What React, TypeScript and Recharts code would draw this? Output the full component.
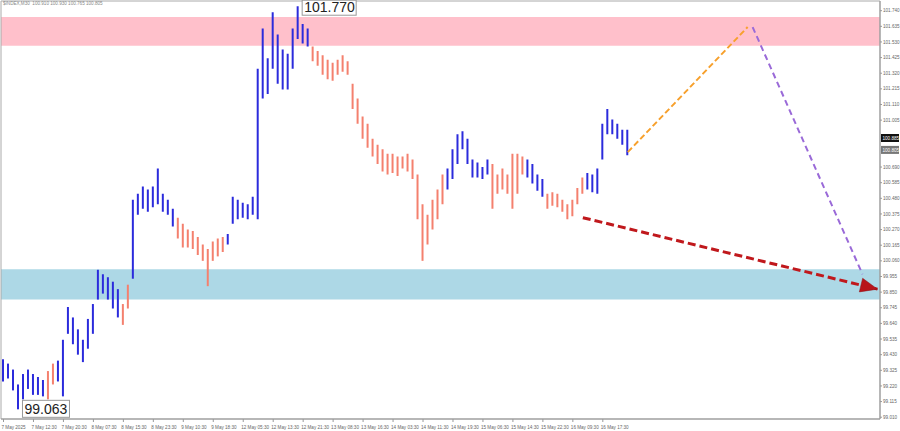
import React from "react";
import {
  ComposedChart, Bar, Line, Cell, XAxis, YAxis, ReferenceArea, ReferenceLine, ReferenceDot,
} from "recharts";

// M30 bars, grouped into ~2.5h slots: high / low per slot
const highs = [
  99.40, 99.37, 99.33, 99.23, 99.30, 99.33, 99.30, 99.28, 99.26, 99.32,
  99.37, 99.39, 99.53, 99.75, 99.68, 99.60, 99.53, 99.67, 99.77, 100.00,
  99.97, 99.95, 99.92, 99.87, 99.77, 99.90, 100.47, 100.51, 100.56, 100.54,
  100.56, 100.68, 100.51, 100.47, 100.41, 100.35, 100.31, 100.27, 100.26, 100.22,
  100.17, 100.14, 100.19, 100.21, 100.22, 100.24, 100.49, 100.47, 100.45, 100.44,
  100.49, 101.35, 101.62, 101.42, 101.73, 101.58, 101.48, 101.45, 101.62, 101.77,
  101.65, 101.62, 101.50, 101.47, 101.44, 101.41, 101.39, 101.41, 101.44, 101.40,
  101.25, 101.15, 101.03, 100.98, 100.88, 100.84, 100.81, 100.78, 100.78, 100.76,
  100.76, 100.78, 100.74, 100.64, 100.44, 100.37, 100.47, 100.54, 100.64, 100.68,
  100.81, 100.91, 100.93, 100.88, 100.74, 100.72, 100.69, 100.74, 100.71, 100.64,
  100.68, 100.64, 100.78, 100.78, 100.76, 100.74, 100.71, 100.64, 100.61, 100.51,
  100.52, 100.51, 100.47, 100.44, 100.47, 100.55, 100.62, 100.65, 100.64, 100.68,
  100.98, 101.08, 101.01, 100.98, 100.94, 100.94,
];

const lows = [
  99.25, 99.27, 99.19, 99.063, 99.13, 99.20, 99.16, 99.16, 99.15, 99.13,
  99.23, 99.25, 99.15, 99.57, 99.50, 99.43, 99.38, 99.47, 99.57, 99.80,
  99.84, 99.80, 99.74, 99.68, 99.63, 99.74, 99.94, 100.37, 100.41, 100.39,
  100.42, 100.44, 100.39, 100.37, 100.29, 100.21, 100.15, 100.15, 100.14, 100.10,
  100.06, 99.89, 100.06, 100.09, 100.12, 100.17, 100.31, 100.34, 100.35, 100.34,
  100.37, 100.34, 101.15, 101.18, 101.35, 101.25, 101.21, 101.21, 101.35, 101.55,
  101.52, 101.50, 101.40, 101.37, 101.31, 101.28, 101.27, 101.31, 101.33, 101.31,
  101.08, 100.98, 100.88, 100.82, 100.76, 100.71, 100.66, 100.64, 100.65, 100.63,
  100.68, 100.66, 100.61, 100.34, 100.06, 100.17, 100.27, 100.34, 100.44, 100.54,
  100.61, 100.71, 100.81, 100.71, 100.62, 100.62, 100.61, 100.64, 100.41, 100.51,
  100.54, 100.51, 100.41, 100.51, 100.64, 100.62, 100.58, 100.53, 100.49, 100.41,
  100.43, 100.42, 100.39, 100.34, 100.36, 100.44, 100.51, 100.54, 100.52, 100.51,
  100.74, 100.91, 100.91, 100.88, 100.84, 100.77,
];

// wave direction per slot: u = up wave (blue), d = down wave (salmon)
const waves =
  "uuuuuuuuu" + "dd" + "uuuuuuuuuuuuu" + "dd" + "uuuuuuuuu" + "dddddddddd" +
  "uuuuuuuuuuuuuuuuu" + "ddddddddddddddddddddddddddd" + "uuuuuuuuu" +
  "ddddddd" + "uuuu" + "dddddddd" + "uuuuuuuuu";

const tickSlots = [0, 6, 12, 18, 24, 30, 36, 42, 48, 54, 60, 66, 72, 78, 84, 90, 96, 102, 108, 114, 120];
const tickLabels = [
  "7 May 2025", "7 May 12:30", "7 May 20:30", "8 May 07:30", "8 May 15:30", "8 May 23:30",
  "9 May 10:30", "9 May 18:30", "12 May 05:30", "12 May 13:30", "12 May 21:30", "13 May 08:30",
  "13 May 16:30", "14 May 03:30", "14 May 11:30", "14 May 19:30", "15 May 06:30", "15 May 14:30",
  "15 May 22:30", "16 May 09:30", "16 May 17:30",
];

// price scale (the two levels under the bid/ask tags are hidden in the original)
const priceTicks = [
  99.010, 99.115, 99.220, 99.325, 99.430, 99.535, 99.640, 99.745, 99.850, 99.955,
  100.060, 100.165, 100.270, 100.375, 100.480, 100.585, 100.690,
  101.005, 101.110, 101.215, 101.320, 101.425, 101.530, 101.635, 101.740,
];

// zones
const resistZone = [101.505, 101.698];
const supportZone = [99.80, 100.004];

// forecast legs: [slot, price]
const orangeLeg = [[125, 100.79], [149, 101.63]];
const purpleLeg = [[150, 101.63], [172, 99.97]];
const redLeg = [[116, 100.35], [175, 99.87]];

const SLOTS = 176;
const BLUE = "#2b2bdc";
const SALMON = "#f4806e";
const AXIS_FONT = "Liberation Sans, Arial, sans-serif";

const rows: any[] = [];
for (let i = 0; i < SLOTS; i++) {
  rows.push({
    i,
    hi: highs[i] ?? null,
    lo: lows[i] ?? null,
    wave: waves[i] ?? null,
    orange: null,
    purple: null,
    red: null,
  });
}
orangeLeg.forEach(([s, p]) => (rows[s].orange = p));
purpleLeg.forEach(([s, p]) => (rows[s].purple = p));
redLeg.forEach(([s, p]) => (rows[s].red = p));

const TimeTick = (props: any) => {
  const { x, y, payload } = props;
  const idx = tickSlots.indexOf(payload.value);
  return (
    <text x={x - 2} y={y + 5} fontSize={4.6} fill="#666" fontFamily={AXIS_FONT} textAnchor="start">
      {tickLabels[idx]}
    </text>
  );
};

const PriceTag = (props: any) => {
  const { viewBox, text, bg } = props;
  if (!viewBox) return null;
  const x = viewBox.x + viewBox.width + 1;
  const y = viewBox.y;
  return (
    <g>
      <rect x={x} y={y - 4} width={18} height={8} fill={bg} />
      <text x={x + 1.5} y={y + 1.8} fontSize={4.6} fill="#fff" fontFamily={AXIS_FONT}>{text}</text>
    </g>
  );
};

const ExtremeTag = (props: any) => {
  const { viewBox, text, dx, dy, w, h } = props;
  if (!viewBox) return null;
  const x = viewBox.x + viewBox.width / 2 + dx;
  const y = viewBox.y + viewBox.height / 2 + dy;
  return (
    <g>
      <rect x={x} y={y} width={w} height={h} fill="#fff" stroke="#999" strokeWidth={1} />
      <text x={x + 2} y={y + h - 3} fontSize={14} fill="#222" fontFamily={AXIS_FONT}>{text}</text>
    </g>
  );
};

const ArrowDot = (props: any) => {
  const { cx, cy, index } = props;
  if (index !== redLeg[1][0] || cx == null) return <g key={`d${index}`} />;
  const ang = Math.atan2(72, 294);
  const ux = Math.cos(ang), uy = Math.sin(ang);
  const nx = -uy, ny = ux;
  const bx = cx - 17 * ux, by = cy - 17 * uy;
  const pts = `${cx},${cy} ${bx + 7 * nx},${by + 7 * ny} ${bx - 7 * nx},${by - 7 * ny}`;
  return <polygon key={`d${index}`} points={pts} fill="#b8141a" stroke="#8a0c10" strokeWidth={0.5} />;
};

export default function App() {
  return (
    <div style={{ position: "absolute", left: 0, top: 0, width: 900, height: 431, background: "#fff" }}>
      <ComposedChart
        width={900}
        height={431}
        data={rows}
        margin={{ top: 1, right: 0, bottom: 0, left: 1 }}
        barCategoryGap={0}
      >
        <XAxis
          dataKey="i"
          type="category"
          ticks={tickSlots}
          interval={0}
          tick={<TimeTick />}
          tickSize={3}
          height={12}
          stroke="#999"
        />
        <YAxis
          orientation="right"
          type="number"
          domain={[98.998, 101.805]}
          allowDataOverflow
          ticks={priceTicks}
          interval={0}
          width={20}
          tickSize={2}
          tickMargin={1}
          stroke="#999"
          tick={{ fontSize: 4.6, fill: "#666", fontFamily: AXIS_FONT, textAnchor: "start" }}
          tickFormatter={(v: number) => v.toFixed(3)}
        />
        <ReferenceArea y1={resistZone[0]} y2={resistZone[1]} fill="#ffc0cb" fillOpacity={1} stroke="none" />
        <ReferenceArea y1={supportZone[0]} y2={supportZone[1]} fill="#add8e6" fillOpacity={1} stroke="none" />
        <ReferenceArea y1={98.998} y2={101.805} fill="none" stroke="#aaa" strokeWidth={1} />
        <Bar
          dataKey={(d: any) => (d.hi == null ? null : [d.lo, d.hi])}
          barSize={2}
          isAnimationActive={false}
        >
          {rows.map((r) => (
            <Cell key={r.i} fill={r.wave === "u" ? BLUE : SALMON} />
          ))}
        </Bar>
        <Line
          dataKey="orange"
          connectNulls
          stroke="#f7a02c"
          strokeWidth={2}
          strokeDasharray="6 3"
          dot={false}
          activeDot={false}
          isAnimationActive={false}
        />
        <Line
          dataKey="purple"
          connectNulls
          stroke="#9a6ad8"
          strokeWidth={2}
          strokeDasharray="6 4"
          dot={false}
          activeDot={false}
          isAnimationActive={false}
        />
        <Line
          dataKey="red"
          connectNulls
          stroke="#c0181c"
          strokeWidth={3}
          strokeDasharray="8 4"
          dot={<ArrowDot />}
          activeDot={false}
          isAnimationActive={false}
        />
        <ReferenceLine y={100.885} stroke="none" label={<PriceTag text="100.885" bg="#111" />} />
        <ReferenceLine y={100.805} stroke="none" label={<PriceTag text="100.805" bg="#777" />} />
        <ReferenceDot
          x={59}
          y={101.77}
          r={0}
          stroke="none"
          label={<ExtremeTag text="101.770" dx={4} dy={-6} w={54} h={15} />}
        />
        <ReferenceDot
          x={3}
          y={99.063}
          r={0}
          stroke="none"
          label={<ExtremeTag text="99.063" dx={4} dy={-9} w={47} h={17} />}
        />
      </ComposedChart>
      <div
        style={{
          position: "absolute", left: 3, top: 1, fontSize: 4.6, color: "#888",
          fontFamily: AXIS_FONT, whiteSpace: "pre",
        }}
      >
        {"$INDEX,M30  100.910 100.930 100.765 100.805"}
      </div>
    </div>
  );
}
